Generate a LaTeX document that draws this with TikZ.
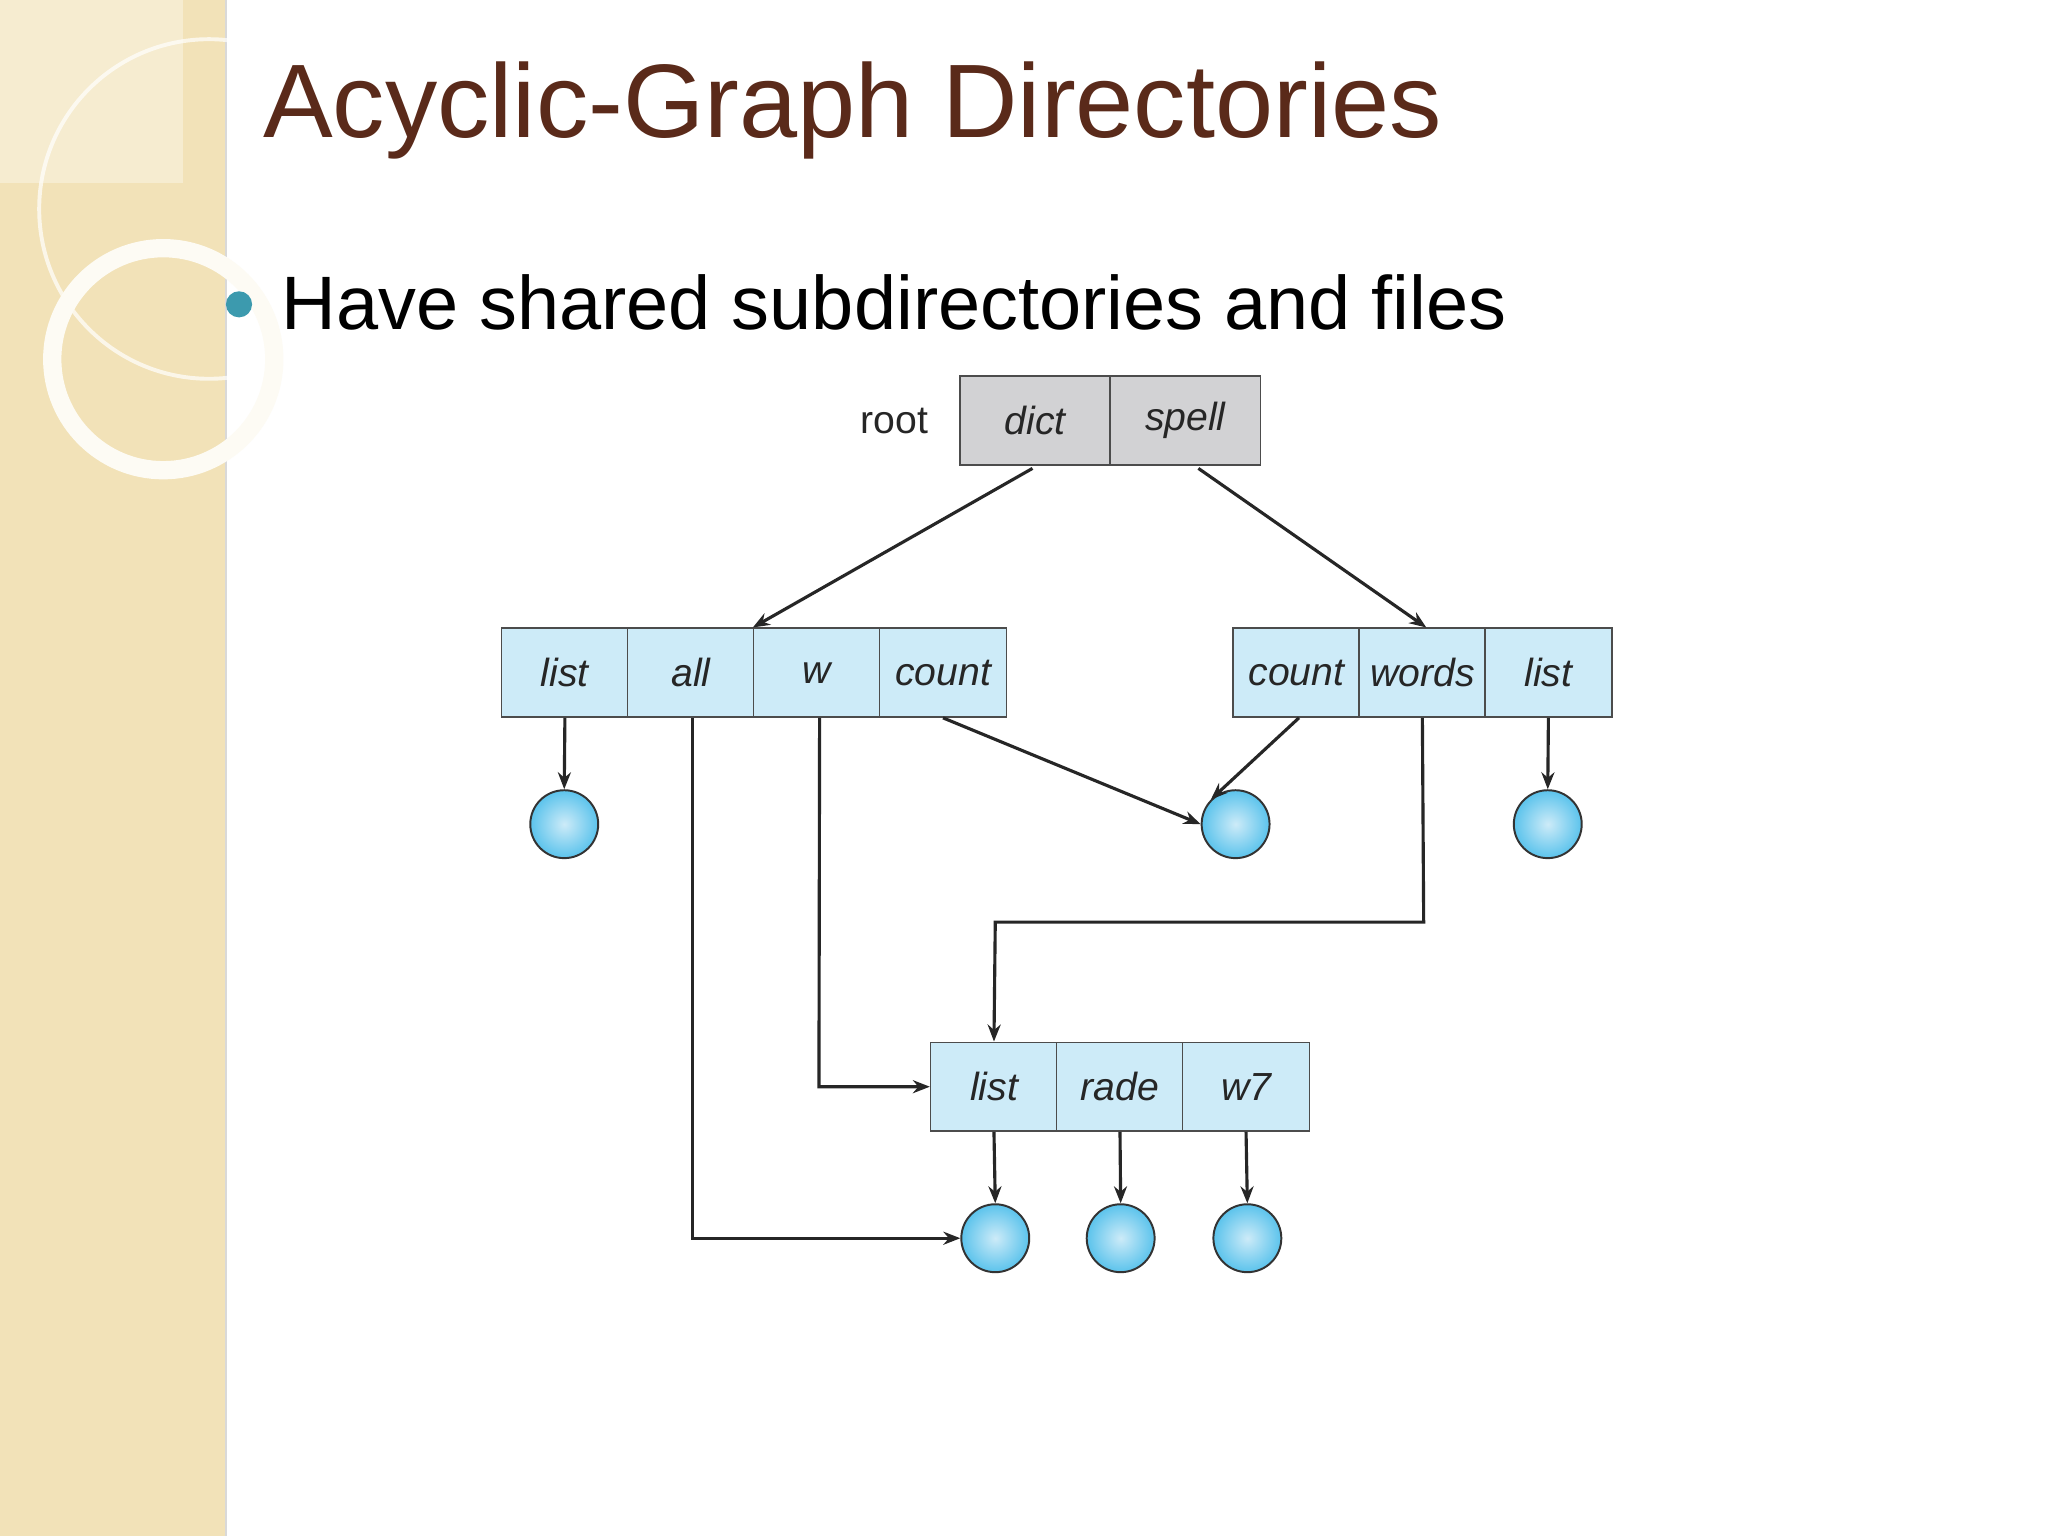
\documentclass[tikz,border=0pt]{standalone}
\usepackage{fontspec}
\setmainfont{Liberation Sans}
\usetikzlibrary{arrows.meta}
\definecolor{band}{HTML}{F2E2B8}
\definecolor{titlec}{HTML}{5A2A1A}
\definecolor{cellb}{HTML}{CDEBF8}
\definecolor{cellg}{HTML}{D2D2D4}
\definecolor{ballc}{HTML}{5BC3EC}
\definecolor{teal}{HTML}{3C9AAE}
\tikzset{
 cell/.style={draw=black!70,line width=1.2pt,fill=cellb,minimum width=97pt,minimum height=68pt,inner sep=0pt,font=\fontsize{30}{30}\selectfont\itshape,text=black!85},
 gcell/.style={cell,fill=cellg,minimum width=115pt},
 ball/.style={circle,draw=black!80,line width=1.5pt,minimum size=52pt,inner sep=0pt,inner color=cellb,outer color=ballc},
 arr/.style={-{Stealth[length=13pt,width=10pt]},line width=2.4pt,black!85}
}
\begin{document}
\begin{tikzpicture}[x=1pt,y=-1pt]
\useasboundingbox (0,0) rectangle (1568,1176);
\fill[white] (0,0) rectangle (1568,1176);
\fill[band] (0,0) rectangle (173,1176);
\draw[black!15,line width=1pt] (173,0) -- (173,1176);
\fill[white,opacity=0.35] (0,0) rectangle (140,140);
\draw[white,opacity=0.7,line width=3pt] (160,160) circle (130);
\draw[white!85!band,line width=14pt] (125,275) circle (85);
\node[anchor=base west,text=titlec,font=\fontsize{80}{80}\selectfont] (title) at (198,105) {Acyclic-Graph Directories};
\fill[teal] (183,233) circle (10);
\node[anchor=base west,font=\fontsize{58}{58}\selectfont] (bul) at (212,252) {Have shared subdirectories and files};
% root
\node[gcell] (dict) at (792.5,322) {dict};
\node[gcell] (spell) at (907.5,322) {spell};
\node[font=\fontsize{30}{30}\selectfont,text=black!85] (root) at (685,322) {root};
% left dir
\node[cell] (l1) at (432.5,515) {list};
\node[cell] (l2) at (529,515) {all};
\node[cell] (l3) at (625.5,515) {w};
\node[cell] (l4) at (722,515) {count};
% right dir
\node[cell] (r1) at (992.5,515) {count};
\node[cell] (r2) at (1089,515) {words};
\node[cell] (r3) at (1185.5,515) {list};
% bottom dir
\node[cell] (b1) at (761,832) {list};
\node[cell] (b2) at (857.5,832) {rade};
\node[cell] (b3) at (954,832) {w7};
% balls
\node[ball] (f1) at (432,631) {};
\node[ball] (f2) at (946,631) {};
\node[ball] (f3) at (1185,631) {};
\node[ball] (f4) at (762,948) {};
\node[ball] (f5) at (858,948) {};
\node[ball] (f6) at (955,948) {};
% arrows
\draw[arr] (dict.south) ++(-2,2) -- (l3.north west);
\draw[arr] (spell.south) ++(10,2) -- ([xshift=3pt]r2.north);
\draw[arr] (l1.south) -- (f1.north);
\draw[arr] (l4.south) -- (f2.west);
\draw[arr] ([xshift=2pt]r1.south) -- (f2.north west);
\draw[arr] (r3.south) -- (f3.north);
\draw[arr] (r2.south) -- (1090,706) -- (762,706) -- (b1.north);
\draw[arr] (l3.south) ++(2,0) -- (627,832) -- (b1.west);
\draw[arr] (l2.south) ++(1,0) -- (530,948) -- (f4.west);
\draw[arr] (b1.south) -- (f4.north);
\draw[arr] (b2.south) -- (f5.north);
\draw[arr] (b3.south) -- (f6.north);
\end{tikzpicture}
\end{document}
